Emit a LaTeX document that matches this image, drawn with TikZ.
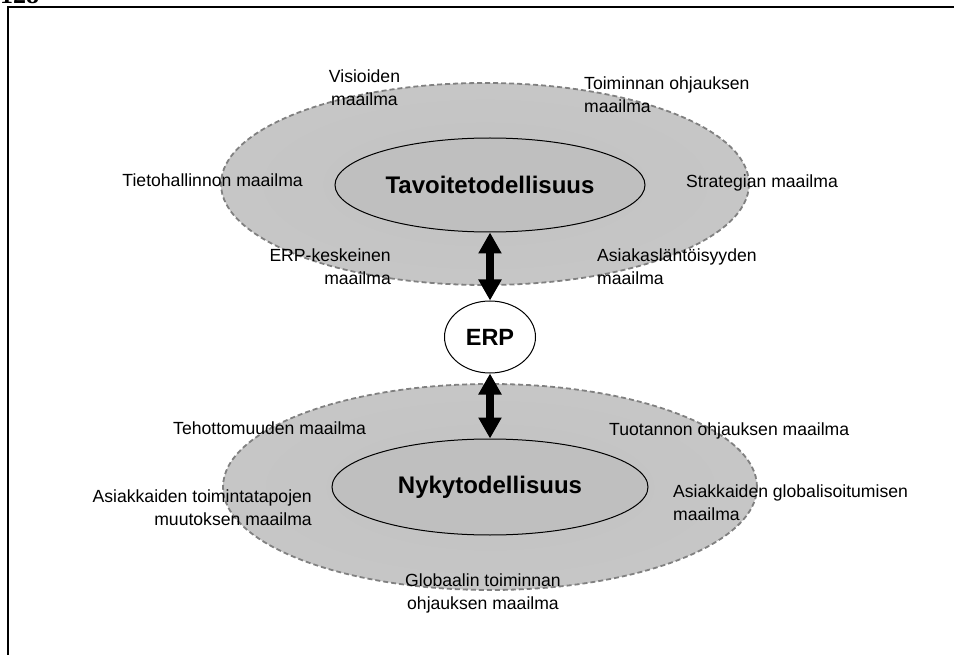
\documentclass[tikz,border=0pt]{standalone}
\usepackage{fontspec}
\setmainfont{Liberation Sans}
\newfontfamily\pagefont{Liberation Serif}
\usetikzlibrary{shapes.geometric,arrows.meta}
\pgfdeclareradialshading{haze}{\pgfpoint{0bp}{0bp}}{color(0bp)=(black!24); color(29bp)=(black!22); color(40bp)=(black!13); color(50bp)=(black!7); color(100bp)=(black!7)}
\begin{document}
\begin{tikzpicture}[x=1pt,y=-1pt,
  lbl/.style={font=\fontsize{17.6}{23}\selectfont, inner sep=0pt},
  outerell/.style={ellipse, inner sep=0pt, shading=haze, draw=black!50, line width=1.8pt, dash pattern=on 5pt off 3pt},
  innerell/.style={ellipse, inner sep=0pt, fill=black!25, draw=black, line width=1pt, font=\fontsize{24}{28}\selectfont\bfseries},
  erpell/.style={ellipse, inner sep=0pt, fill=white, draw=black, line width=1pt, font=\fontsize{23.5}{28}\selectfont\bfseries},
  bigarrow/.style={line width=7.5pt, {Triangle[length=21pt,width=22pt]}-{Triangle[length=21pt,width=22pt]}},
  frameline/.style={line width=2pt, black}
]
\useasboundingbox (0,0) rectangle (954,655);
% frame
\coordinate (fc) at (8,7);
\coordinate (fr) at (954,7);
\coordinate (fb) at (8,655);
\draw[frameline] (fr) -- (fc) -- (fb);
\node[font=\pagefont\fontsize{26}{30}\selectfont\bfseries, anchor=base west, inner sep=0pt] (pg) at (0,4) {128};

% top group
\node[outerell, minimum width=528, minimum height=202] (tout) at (485,184) {};
\node[innerell, minimum width=310, minimum height=94] (tin) at (490,185) {Tavoitetodellisuus};

% ERP
\node[erpell, minimum width=91, minimum height=72] (erp) at (490,337) {ERP};

% bottom group
\node[outerell, minimum width=534, minimum height=206] (nout) at (490,487) {};
\node[innerell, minimum width=316, minimum height=96] (nin) at (490,487) {Nykytodellisuus};

% arrows
\draw[bigarrow] (tin.south) -- (erp.north);
\draw[bigarrow] (erp.south) -- (nin.north);

% labels top
\node[lbl, align=center] (l1) at (364.5,88.2) {Visioiden\\maailma};
\node[lbl, align=left, anchor=west] (l2) at (584,94.7) {Toiminnan ohjauksen\\maailma};
\node[lbl, anchor=east] (l3) at (303,180.6) {Tietohallinnon maailma};
\node[lbl, anchor=west] (l4) at (686,182.5) {Strategian maailma};
\node[lbl, align=right, anchor=east] (l5) at (391,266.7) {ERP-keskeinen\\maailma};
\node[lbl, align=left, anchor=west] (l6) at (597,266.7) {Asiakaslähtöisyyden\\maailma};

% labels bottom
\node[lbl, anchor=west] (l7) at (173,428.6) {Tehottomuuden maailma};
\node[lbl, anchor=west] (l8) at (609,430.5) {Tuotannon ohjauksen maailma};
\node[lbl, align=right, anchor=east] (l9) at (312,508.2) {Asiakkaiden toimintatapojen\\muutoksen maailma};
\node[lbl, align=left, anchor=west] (l10) at (673,503.2) {Asiakkaiden globalisoitumisen\\maailma};
\node[lbl, align=center] (l11) at (483,593) {Globaalin toiminnan\\ohjauksen maailma};
\end{tikzpicture}
\end{document}
